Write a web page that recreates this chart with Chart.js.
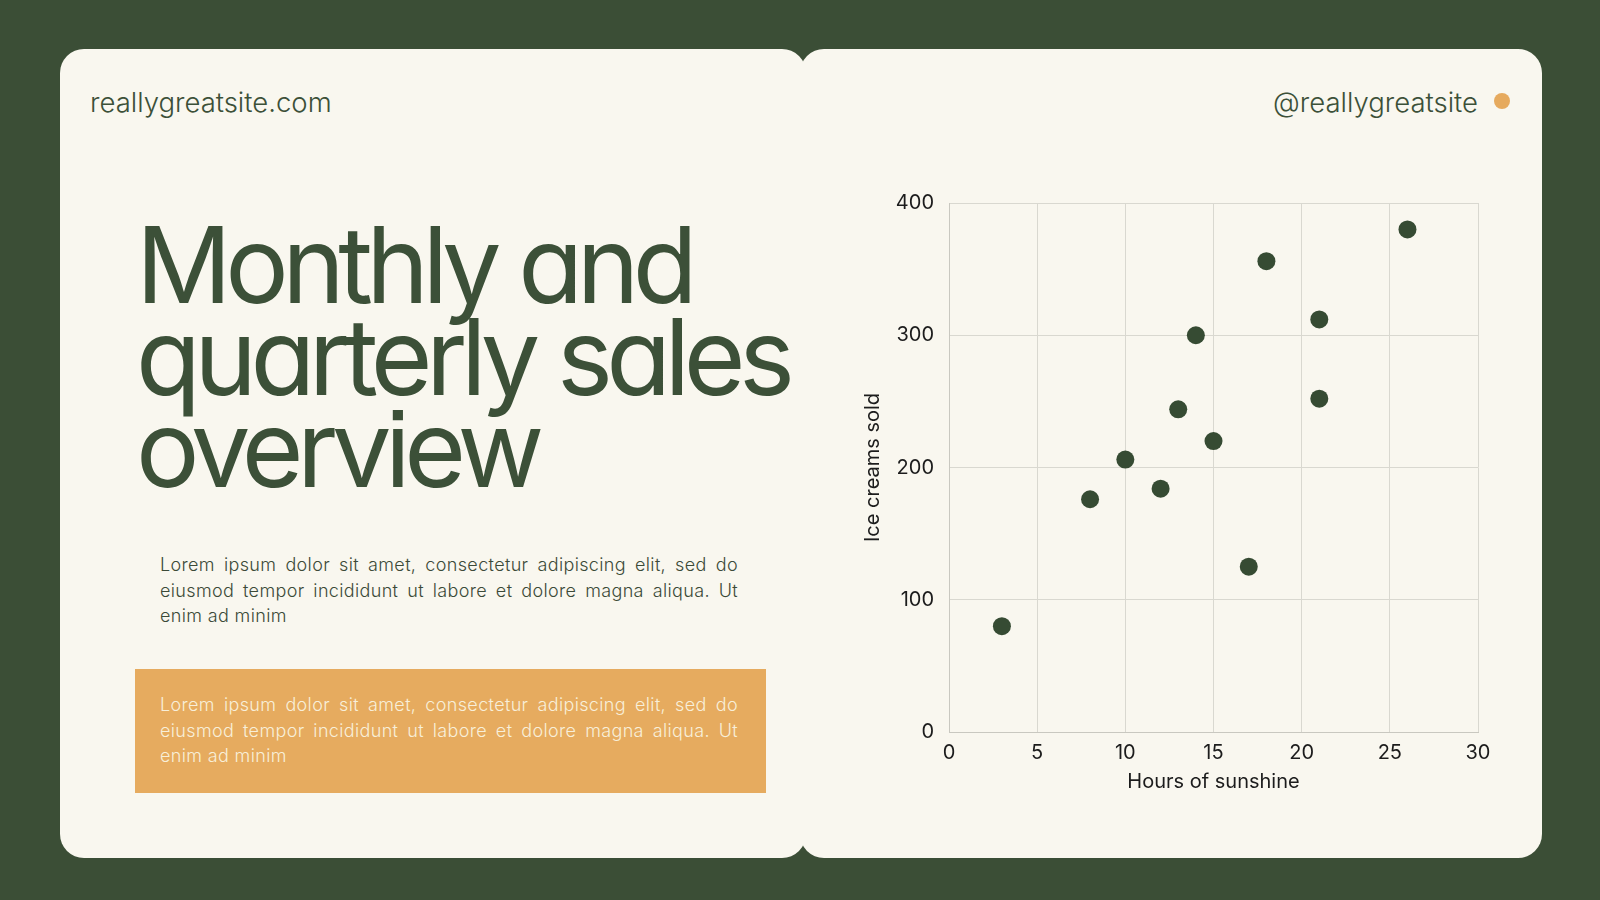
<!DOCTYPE html>
<html>
<head>
<meta charset="utf-8">
<script src="https://cdn.jsdelivr.net/npm/chart.js@4/dist/chart.umd.min.js"></script>
<style>
  html, body { margin:0; padding:0; }
  body { width:1600px; height:900px; background:#3b4e36; position:relative; overflow:hidden; font-family:Inter, "Noto Sans", sans-serif; }
  .card { position:absolute; background:#f9f7ef; border-radius:24px; }
  #left { left:60px; top:49px; width:746px; height:809px; }
  #right { left:800px; top:49px; width:742px; height:809px; }
  .hdr { position:absolute; font-size:27.5px; line-height:30px; color:#3c5038; font-weight:300; letter-spacing:0; }
  #site { left:90px; top:87px; }
  #handle { right:122px; top:87px; }
  #dot { position:absolute; left:1494px; top:93px; width:16px; height:16px; border-radius:50%; background:#e6aa5e; }
  #title { position:absolute; left:136px; top:219px; margin:0; font-size:106px; line-height:92px; font-weight:400; color:#3c5038; letter-spacing:-0.062em; font-feature-settings:"cv11" 1, "ss07" 1; white-space:nowrap; }
  .para { position:absolute; left:160px; width:578px; font-size:18px; line-height:25.7px; font-weight:300; text-align:justify; margin:0; letter-spacing:0.35px; }
  #p1 { top:552px; color:#3c4a38; }
  #box { position:absolute; left:135px; top:669px; width:631px; height:124px; background:#e6ab5f; }
  #p2 { top:692px; color:#f8efd9; }
  #chartwrap { position:absolute; left:840px; top:176px; width:670px; height:634px; }
</style>
</head>
<body>
<div class="card" id="left"></div>
<div class="card" id="right"></div>
<div class="hdr" id="site">reallygreatsite.com</div>
<div class="hdr" id="handle">@reallygreatsite</div>
<div id="dot"></div>
<h1 id="title">Monthly and<br>quarterly sales<br>overview</h1>
<p class="para" id="p1">Lorem ipsum dolor sit amet, consectetur adipiscing elit, sed do eiusmod tempor incididunt ut labore et dolore magna aliqua. Ut enim ad minim</p>
<div id="box"></div>
<p class="para" id="p2">Lorem ipsum dolor sit amet, consectetur adipiscing elit, sed do eiusmod tempor incididunt ut labore et dolore magna aliqua. Ut enim ad minim</p>
<div id="chartwrap"><canvas id="c" width="670" height="634"></canvas></div>
<script>
const sunshineHours = [3, 8, 10, 12, 13, 14, 15, 17, 18, 21, 21, 26];
const iceCreamsSold = [80, 176, 206, 184, 244, 300, 220, 125, 356, 312, 252, 380];
const xTicks = [0, 5, 10, 15, 20, 25, 30];
const yTicks = [0, 100, 200, 300, 400];
const xTitle = "Hours of sunshine";
const yTitle = "Ice creams sold";

const points = sunshineHours.map((x, i) => ({ x: x, y: iceCreamsSold[i] }));
const tickFont = { family: "Inter", size: 20, weight: 400 };
const gridColor = "#d9d8d0";

new Chart(document.getElementById("c"), {
  type: "scatter",
  data: {
    datasets: [{
      data: points,
      backgroundColor: "#364b33",
      borderColor: "#364b33",
      pointRadius: 9,
      pointHoverRadius: 9,
      borderWidth: 0
    }]
  },
  options: {
    responsive: false,
    animation: false,
    devicePixelRatio: 1,
    layout: { padding: { left: 0, top: 0, right: 32, bottom: 0 } },
    plugins: { legend: { display: false }, tooltip: { enabled: false } },
    scales: {
      x: {
        type: "linear",
        min: xTicks[0], max: xTicks[xTicks.length - 1],
        afterBuildTicks: s => { s.ticks = xTicks.map(v => ({ value: v })); },
        afterFit: s => { s.height = 78; },
        ticks: { font: tickFont, color: "#1c1c1c", padding: 9, maxRotation: 0 },
        grid: { color: gridColor, lineWidth: 1, drawTicks: false },
        border: { color: "#c9c8c0", width: 1 },
        title: { display: true, text: xTitle, font: { family: "Inter", size: 20 }, color: "#1c1c1c", padding: { top: 0, bottom: 16 } }
      },
      y: {
        type: "linear",
        min: yTicks[0], max: yTicks[yTicks.length - 1],
        afterBuildTicks: s => { s.ticks = yTicks.map(v => ({ value: v })); },
        afterFit: s => { s.width = 109; },
        ticks: { font: tickFont, color: "#1c1c1c", padding: 15 },
        grid: { color: gridColor, lineWidth: 1, drawTicks: false },
        border: { color: "#c9c8c0", width: 1 },
        title: { display: true, text: yTitle, font: { family: "Inter", size: 20 }, color: "#1c1c1c", padding: { top: 21, bottom: 0 } }
      }
    }
  }
});
</script>
</body>
</html>
